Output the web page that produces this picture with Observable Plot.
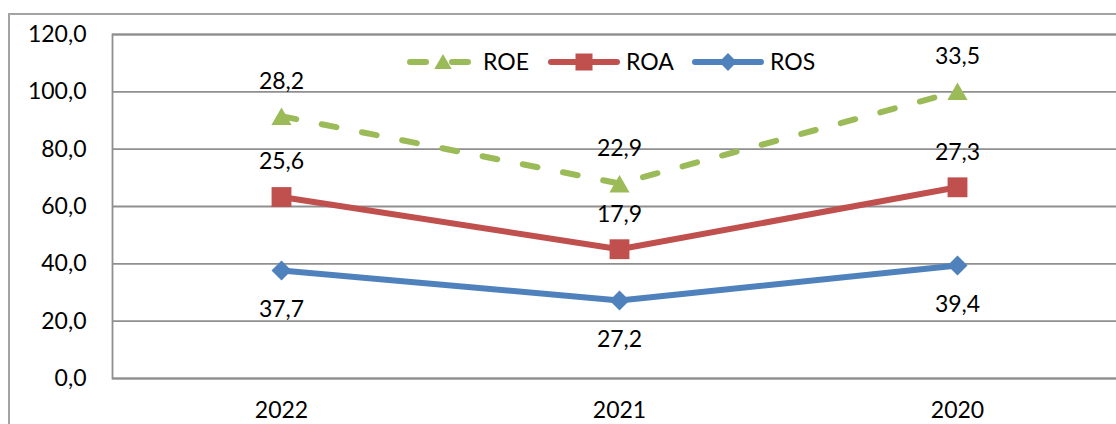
<!DOCTYPE html>
<html><head><meta charset="utf-8">
<script src="https://cdn.jsdelivr.net/npm/d3@7"></script>
<script src="https://cdn.jsdelivr.net/npm/@observablehq/plot@0.6"></script>
<style>
body{margin:0;background:#fff;}
#wrap{position:relative;width:1116px;height:424px;overflow:hidden;font-family:Lato,sans-serif;background:#fff;}
#border{position:absolute;left:8px;top:13px;width:1300px;height:600px;border-left:2px solid #a3a3a3;border-top:2px solid #a3a3a3;}
#chart{position:absolute;left:0;top:0;}
#legend{position:absolute;left:0;top:0;pointer-events:none;}
</style></head><body>
<div id="wrap"><div id="border"></div><div id="chart"></div><svg id="legend"></svg></div>
<script>
const years = ["2022", "2021", "2020"];
const seriesOrder = ["ROS", "ROA", "ROE"];
const ros = [37.7, 27.2, 39.4];
const roa = [25.6, 17.9, 27.3];
const roe = [28.2, 22.9, 33.5];
const yTicks = [0, 20, 40, 60, 80, 100, 120];
const legendOrder = ["ROE", "ROA", "ROS"];

const colors = {ROE: "#9BBB59", ROA: "#C0504D", ROS: "#4F81BD"};
const symbols = {ROE: "triangle", ROA: "square", ROS: "diamond2"};
const radii = {ROE: 7.5, ROA: 11.2, ROS: 9};
const grid = "#8f8f8f";
const FS = 23;
const fmt = d => d.toFixed(1).replace(".", ",");

const data = [];
[["ROS", ros], ["ROA", roa], ["ROE", roe]].forEach(([s, vals]) =>
  vals.forEach((v, i) => data.push({series: s, year: years[i], value: v})));

const st = (s, extra = {}) => Plot.filter(d => d.series === s,
  Plot.stackY2({x: "year", y: "value", z: "series", order: seriesOrder, ...extra}));

const marks = [
  Plot.ruleY(yTicks, {stroke: grid, strokeWidth: 1.8}),
  Plot.frame({stroke: grid, strokeWidth: 1.8}),
  Plot.axisY({ticks: yTicks, tickSize: 0, tickPadding: 26, tickFormat: fmt, fontSize: FS, label: null, fill: "#000"}),
  Plot.axisX({tickSize: 0, tickPadding: 23, fontSize: FS, label: null, fill: "#000"})
];
for (const s of seriesOrder) {
  marks.push(Plot.lineY(data, st(s, {
    stroke: colors[s], strokeWidth: 6,
    strokeDasharray: s === "ROE" ? "15 26" : null,
    strokeLinecap: s === "ROE" ? "round" : "butt",
    strokeLinejoin: "round"
  })));
}
for (const s of seriesOrder) {
  marks.push(Plot.dot(data, st(s, {
    symbol: () => symbols[s], fill: colors[s], stroke: "none", r: radii[s],
    dy: s === "ROE" ? 3 : 0
  })));
}
for (const s of seriesOrder) {
  marks.push(Plot.text(data, st(s, {
    text: d => fmt(d.value), fontSize: FS, fill: "#000",
    dy: s === "ROS" ? 39 : -35
  })));
}

const chart = Plot.plot({
  width: 1116, height: 424,
  marginLeft: 112, marginRight: -10, marginTop: 34, marginBottom: 46,
  style: {fontFamily: "Lato, sans-serif", fontSize: FS + "px", background: "transparent", color: "#000"},
  x: {type: "point", domain: years, padding: 0.5},
  y: {domain: [0, 120]},
  symbol: {type: "identity"},
  marks
});
document.getElementById("chart").appendChild(chart);

// legend
const leg = d3.select("#legend").attr("width", 1116).attr("height", 424);
const legX = {ROE: 407, ROA: 548, ROS: 692};
const legY = 62;
const d3sym = {triangle: d3.symbolTriangle, square: d3.symbolSquare, diamond2: d3.symbolDiamond2};
const legR = {ROE: 6.5, ROA: 9.6, ROS: 8};
for (const s of legendOrder) {
  const x0 = legX[s];
  const g = leg.append("g");
  const isE = s === "ROE";
  g.append("line").attr("x1", x0 + 3).attr("x2", x0 + 72 - 3).attr("y1", legY).attr("y2", legY)
    .attr("stroke", colors[s]).attr("stroke-width", 6).attr("stroke-linecap", "round")
    .attr("stroke-dasharray", isE ? "16 26" : null);
  const size = Math.PI * legR[s] * legR[s];
  g.append("path").attr("d", d3.symbol(d3sym[symbols[s]], size)())
    .attr("transform", `translate(${x0 + 36},${legY + (isE ? 2 : 0)})`).attr("fill", colors[s]);
  g.append("text").attr("x", x0 + (isE ? 76 : 78)).attr("y", legY).attr("dy", "0.36em")
    .attr("font-family", "Lato, sans-serif").attr("font-size", FS).attr("fill", "#000").text(s);
}
</script>
</body></html>
